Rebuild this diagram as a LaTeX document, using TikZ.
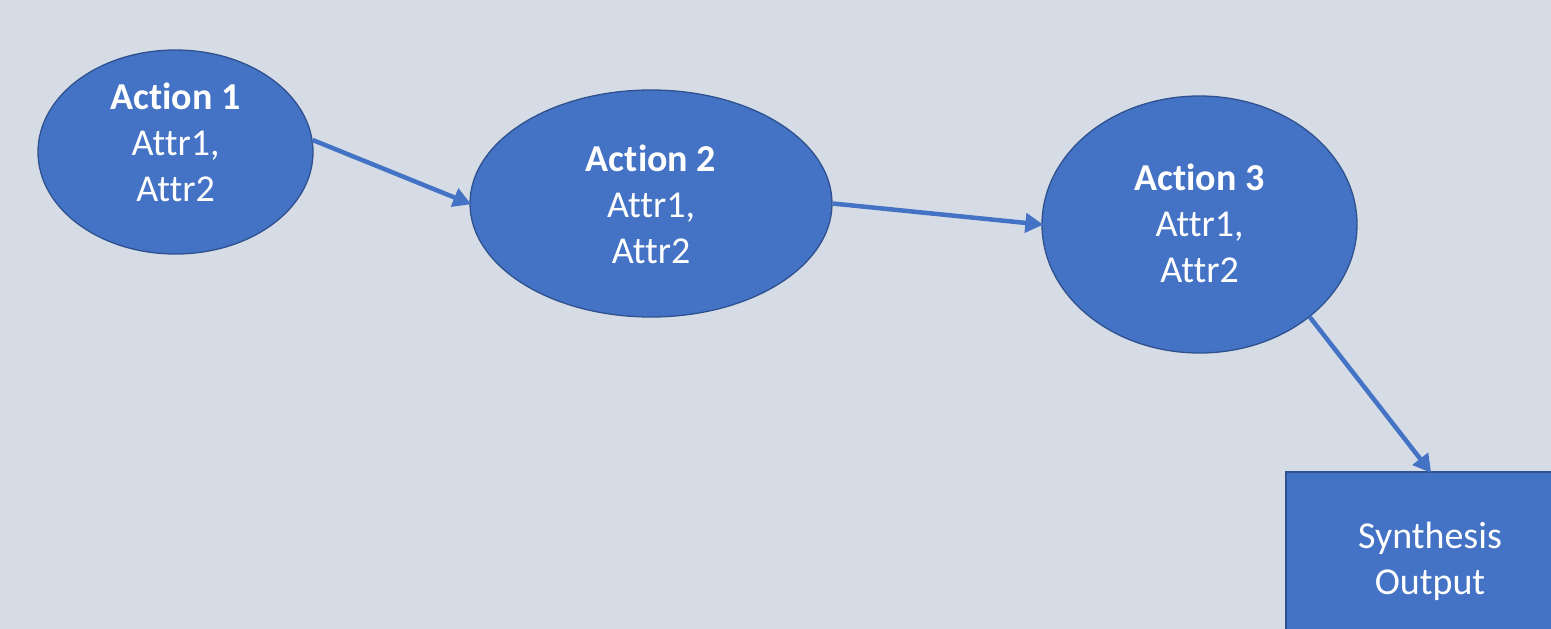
\documentclass[tikz,border=0pt]{standalone}
\usepackage{fontspec}
\setmainfont{Carlito}[RawFeature={-liga;-clig;-calt;-dlig;-rlig}]
\usetikzlibrary{shapes.geometric,arrows.meta}
\definecolor{bg}{HTML}{D6DCE5}
\definecolor{blu}{HTML}{4472C4}
\definecolor{bord}{HTML}{2F528F}
\tikzset{
  act/.style={ellipse,fill=blu,draw=bord,line width=1.3pt,inner sep=0pt},
  lbl/.style={text=white,align=center,font=\fontsize{38}{46}\selectfont},
  conn/.style={draw=blu,line width=4.5pt,-{Triangle[length=18pt,width=19pt]},shorten >=-2pt},
  outbox/.style={rectangle,fill=blu,draw=bord,line width=1.3pt,minimum width=288pt,minimum height=178pt,inner sep=0pt}
}
\begin{document}
\begin{tikzpicture}[x=1pt,y=-1pt]
\fill[bg] (0,0) rectangle (1551,629);
\useasboundingbox (0,0) rectangle (1551,629);
\begin{scope}
\clip (0,0) rectangle (1551,629);
\node[act,minimum width=275pt,minimum height=204pt] (a1) at (175.5,152) {};
\node[act,minimum width=362pt,minimum height=227pt] (a2) at (651,203.5) {};
\node[act,minimum width=315pt,minimum height=257pt] (a3) at (1199.5,224.5) {};
\node[outbox] (out) at (1430,561) {};
\node[lbl] (t1) at (175.5,142.5) {\textbf{Act\kern0pt ion 1}\\Attr1,\\Attr2};
\node[lbl] (t2) at (651,204) {\textbf{Act\kern0pt ion 2}\\Attr1,\\Attr2};
\node[lbl] (t3) at (1199.5,223) {\textbf{Act\kern0pt ion 3}\\Attr1,\\Attr2};
\node[lbl] (t4) at (1430,561) {Synthesis\\Output};
\draw[conn] (a1.5) -- (a2.west);
\draw[conn] (a2.east) -- (a3.west);
\draw[conn] (a3.-40) -- (out.north);
\end{scope}
\end{tikzpicture}
\end{document}
